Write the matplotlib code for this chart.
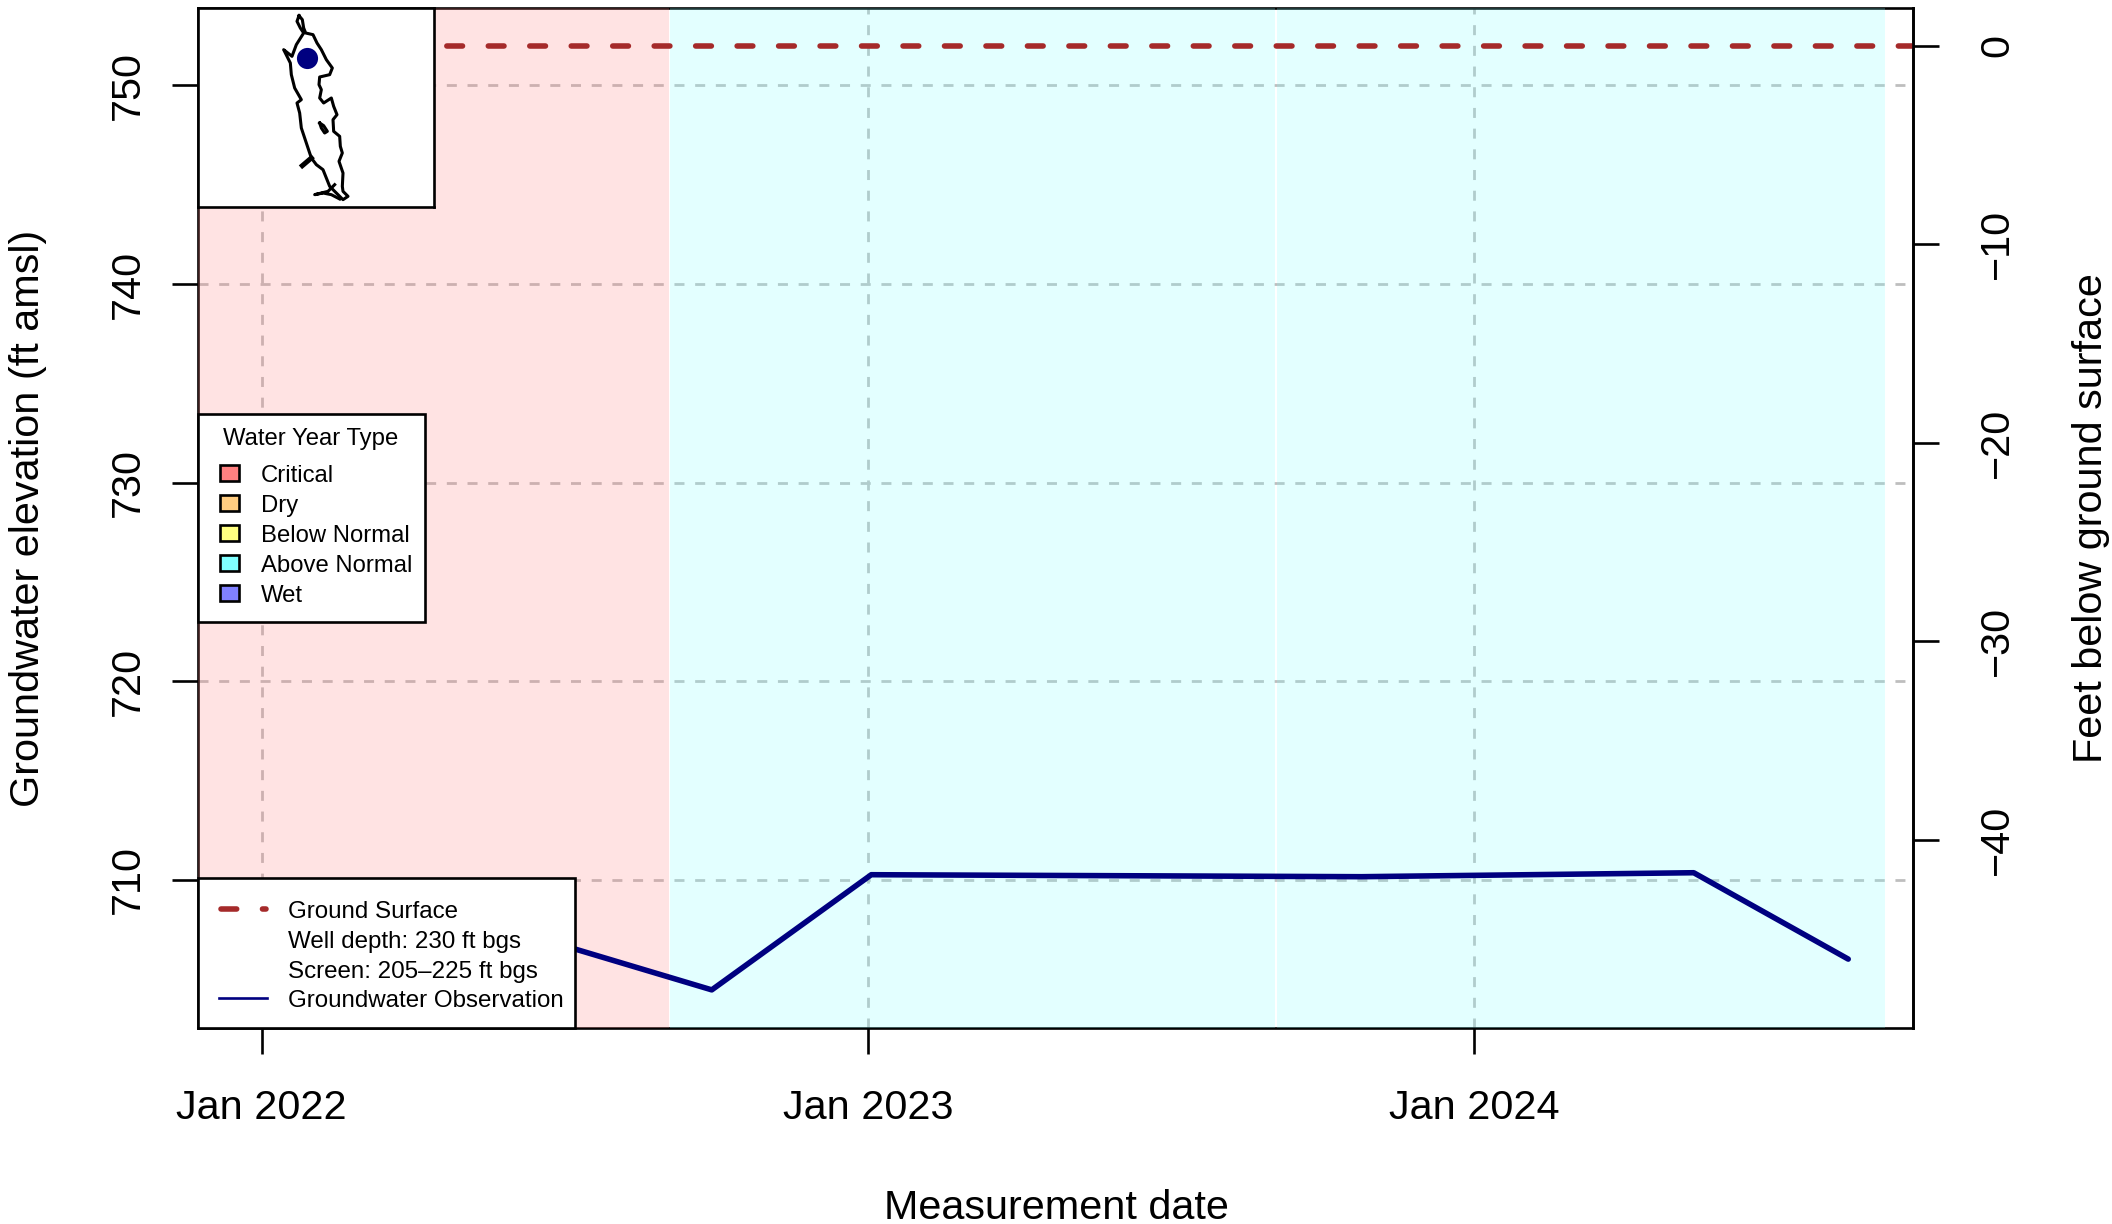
#!/usr/bin/env python

import datetime as dt

import matplotlib
matplotlib.use("Agg")
import matplotlib.dates as mdates
import matplotlib.pyplot as plt
from matplotlib.patches import Rectangle

plt.rcParams['font.family'] = ['Liberation Sans', 'DejaVu Sans']
plt.rcParams['lines.scale_dashes'] = False

W, H, DPI = 2112, 1224, 200

obs_dates = ["2022-04-20", "2022-09-29", "2023-01-03", "2023-10-25", "2024-05-12", "2024-08-13"]
obs_elev = [708.5, 704.45, 710.25, 710.15, 710.35, 706.0]
ground_surface = 752.0

wy_starts = ["2021-09-03", "2022-09-04", "2023-09-04"]
wy_ends = ["2022-09-03", "2023-09-03", "2024-09-04"]
wy_colors = ["#FF8080", "#80FFFF", "#80FFFF"]

year_ticks = ["2022-01-01", "2023-01-01", "2024-01-01"]
year_labels = ["Jan 2022", "Jan 2023", "Jan 2024"]
elev_ticks = [710, 720, 730, 740, 750]
depth_ticks = [0, -10, -20, -30, -40]

wy_names = ["Critical", "Dry", "Below Normal", "Above Normal", "Wet"]
wy_legend_colors = ["#FF8080", "#FFCC80", "#FFFF80", "#80FFFF", "#8080FF"]
well_labels = ["Ground Surface", "Well depth: 230 ft bgs", "Screen: 205\u2013225 ft bgs", "Groundwater Observation"]

# valley outline for the locator map, map units
outline_x = [358, 368, 372, 378, 400, 412, 425, 440, 458, 450, 420, 418, 425, 420, 432, 455, 462, 472, 460, 462, 480, 482, 488, 478, 490, 488, 490, 505, 490, 470, 450, 430, 410, 395, 380, 365, 360, 352, 365, 345, 335, 332, 312, 322, 337, 350, 372, 362, 352, 358]
outline_y = [48, 60, 85, 100, 105, 130, 150, 180, 205, 225, 232, 255, 270, 295, 310, 295, 320, 345, 360, 395, 410, 440, 460, 485, 520, 560, 575, 590, 600, 580, 560, 510, 495, 475, 430, 385, 340, 310, 300, 265, 225, 190, 150, 158, 170, 135, 100, 85, 65, 48]
pond_x = [420, 432, 443, 435, 425, 420]
pond_y = [370, 378, 395, 400, 385, 370]
spur_x = [395, 368]
spur_y = [475, 498]
lobe_x = [465, 445, 405, 430, 455, 480]
lobe_y = [555, 575, 585, 580, 585, 598]
well_x = [383]
well_y = [176]

obs_x = mdates.date2num([dt.date.fromisoformat(d) for d in obs_dates])
tick_x = mdates.date2num([dt.date.fromisoformat(d) for d in year_ticks])
per_px = (tick_x[2] - tick_x[0]) / (1474.4 - 261.5)

fig = plt.figure(figsize=(W / DPI, H / DPI), dpi=DPI)
L, R, T, B = 198, 1913, 8, 1028
ax = fig.add_axes([L / W, 1 - B / H, (R - L) / W, (B - T) / H])
ax.set_xlim(tick_x[0] - (261.5 - L) * per_px, tick_x[0] + (R - 261.5) * per_px)
ax.set_ylim(702.53, 753.9)

grid = dict(color="#BEBEBE", lw=1.0, dashes=(3.6, 3.85), dash_capstyle="butt", zorder=1)
for y in elev_ticks:
    ax.axhline(y, **grid)
for x in tick_x:
    ax.axvline(x, **grid)

# shading goes over the box and grid, like the original
for s, e, c in zip(wy_starts, wy_ends, wy_colors):
    ax.axvspan(mdates.datestr2num(s), mdates.datestr2num(e), facecolor=c, alpha=0.22, lw=0, zorder=3)

ground_dash = (5.65, 9.28)
ax.axhline(ground_surface, color="brown", lw=2.0, dashes=ground_dash, dash_capstyle="round", zorder=4)
ax.plot(obs_x, obs_elev, color="navy", lw=2.0, zorder=4, solid_capstyle="round", solid_joinstyle="round")

for side in ax.spines.values():
    side.set_linewidth(0.95)
ax.set_xticks(tick_x, year_labels)
ax.set_yticks(elev_ticks, [str(v) for v in elev_ticks])
ax.tick_params(length=9.4, width=0.95, labelsize=14.9)
ax.tick_params(axis="x", pad=12.5)
ax.tick_params(axis="y", pad=9)
plt.setp(ax.get_yticklabels(), rotation=90, va="center")

ax2 = ax.twinx()
ax2.set_ylim(ax.get_ylim()[0] - ground_surface, ax.get_ylim()[1] - ground_surface)
ax2.set_yticks(depth_ticks, ["\u2212" + str(-v) if v else "0" for v in depth_ticks])
ax2.tick_params(length=9.4, width=0.95, labelsize=14.9, pad=14)
plt.setp(ax2.get_yticklabels(), rotation=90, va="center")
for name, side in ax2.spines.items():
    side.set_linewidth(0.95)
    side.set_visible(name == "right")

fig.text(1056 / W, 1 - 1208 / H, "Measurement date", fontsize=14.9, ha="center", va="center")
fig.text(28 / W, 1 - 518 / H, "Groundwater elevation (ft amsl)", fontsize=14.9, rotation=90, ha="center", va="center")
fig.text(2091 / W, 1 - 518 / H, "Feet below ground surface", fontsize=14.9, rotation=90, ha="center", va="center")

# locator map
inset = fig.add_axes([L / W, 1 - 207 / H, 236 / W, 199 / H])
inset.set_xlim(55, 763)
inset.set_ylim(622, 25)
inset.set_xticks([])
inset.set_yticks([])
inset.set_zorder(5)
for side in inset.spines.values():
    side.set_linewidth(0.95)
line_kw = dict(color="black", lw=1.1, solid_joinstyle="round")
inset.plot(outline_x, outline_y, **line_kw)
inset.plot(pond_x, pond_y, **line_kw)
inset.plot(spur_x, spur_y, color="black", lw=1.8)
inset.plot(lobe_x, lobe_y, **line_kw)
inset.scatter(well_x, well_y, s=58, color="navy", lw=0, zorder=4)

# legends drawn by hand in pixel space, the way base R lays them out
over = fig.add_axes([0, 0, 1, 1])
over.set_xlim(0, W)
over.set_ylim(H, 0)
over.axis("off")
over.set_zorder(6)

over.add_patch(Rectangle((198, 414), 227, 208, fc="white", ec="black", lw=0.95))
over.text(311, 439, "Water Year Type", fontsize=8.6, ha="center", va="center")
for i, (name, c) in enumerate(zip(wy_names, wy_legend_colors)):
    ypos = 473 + i * 30
    over.add_patch(Rectangle((220, ypos - 8), 19, 16, fc=c, ec="black", lw=0.95))
    over.text(261, ypos + 3, name, fontsize=8.6, ha="left", va="center")

over.add_patch(Rectangle((198, 878), 377, 150, fc="white", ec="black", lw=0.95))
for i, label in enumerate(well_labels):
    over.text(288, 912 + i * 29.8, label, fontsize=8.68, ha="left", va="center")
over.plot([221, 266], [909, 909], color="brown", lw=2.0, dashes=ground_dash, dash_capstyle="round")
over.plot([219, 267], [998, 998], color="navy", lw=0.95)

fig.savefig("out.png", dpi=DPI)
